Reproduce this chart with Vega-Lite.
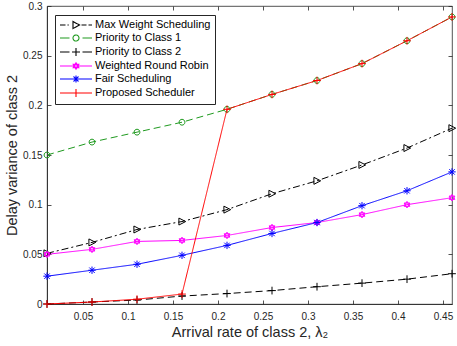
{
  "$schema": "https://vega.github.io/schema/vega-lite/v6.json",
  "width": 405,
  "height": 298,
  "autosize": "none",
  "padding": {"left": 47, "top": 6, "right": 5, "bottom": 42},
  "background": "white",
  "config": {
    "font": "Liberation Sans",
    "view": {"stroke": "#262626", "strokeWidth": 0.8},
    "axis": {
      "grid": false,
      "labelColor": "#262626",
      "labelFontSize": 10,
      "titleColor": "#262626",
      "titleFontSize": 14.5,
      "titleFontWeight": "normal",
      "domainColor": "#262626",
      "domainWidth": 0.8,
      "tickColor": "#262626",
      "tickWidth": 0.8,
      "tickSize": -4
    }
  },
  "data": {
    "values": [
      {"x": 0.01, "y": 0.051, "s": "Max Weight Scheduling"},
      {"x": 0.06, "y": 0.062, "s": "Max Weight Scheduling"},
      {"x": 0.11, "y": 0.075, "s": "Max Weight Scheduling"},
      {"x": 0.16, "y": 0.083, "s": "Max Weight Scheduling"},
      {"x": 0.21, "y": 0.095, "s": "Max Weight Scheduling"},
      {"x": 0.26, "y": 0.111, "s": "Max Weight Scheduling"},
      {"x": 0.31, "y": 0.124, "s": "Max Weight Scheduling"},
      {"x": 0.36, "y": 0.140, "s": "Max Weight Scheduling"},
      {"x": 0.41, "y": 0.157, "s": "Max Weight Scheduling"},
      {"x": 0.46, "y": 0.177, "s": "Max Weight Scheduling"},
      {"x": 0.01, "y": 0.150, "s": "Priority to Class 1"},
      {"x": 0.06, "y": 0.163, "s": "Priority to Class 1"},
      {"x": 0.11, "y": 0.173, "s": "Priority to Class 1"},
      {"x": 0.16, "y": 0.183, "s": "Priority to Class 1"},
      {"x": 0.21, "y": 0.196, "s": "Priority to Class 1"},
      {"x": 0.26, "y": 0.211, "s": "Priority to Class 1"},
      {"x": 0.31, "y": 0.225, "s": "Priority to Class 1"},
      {"x": 0.36, "y": 0.242, "s": "Priority to Class 1"},
      {"x": 0.41, "y": 0.265, "s": "Priority to Class 1"},
      {"x": 0.46, "y": 0.289, "s": "Priority to Class 1"},
      {"x": 0.01, "y": 0.000, "s": "Priority to Class 2"},
      {"x": 0.06, "y": 0.002, "s": "Priority to Class 2"},
      {"x": 0.11, "y": 0.004, "s": "Priority to Class 2"},
      {"x": 0.16, "y": 0.008, "s": "Priority to Class 2"},
      {"x": 0.21, "y": 0.0105, "s": "Priority to Class 2"},
      {"x": 0.26, "y": 0.0135, "s": "Priority to Class 2"},
      {"x": 0.31, "y": 0.0174, "s": "Priority to Class 2"},
      {"x": 0.36, "y": 0.021, "s": "Priority to Class 2"},
      {"x": 0.41, "y": 0.025, "s": "Priority to Class 2"},
      {"x": 0.46, "y": 0.0305, "s": "Priority to Class 2"},
      {"x": 0.01, "y": 0.050, "s": "Weighted Round Robin"},
      {"x": 0.06, "y": 0.055, "s": "Weighted Round Robin"},
      {"x": 0.11, "y": 0.063, "s": "Weighted Round Robin"},
      {"x": 0.16, "y": 0.064, "s": "Weighted Round Robin"},
      {"x": 0.21, "y": 0.069, "s": "Weighted Round Robin"},
      {"x": 0.26, "y": 0.077, "s": "Weighted Round Robin"},
      {"x": 0.31, "y": 0.082, "s": "Weighted Round Robin"},
      {"x": 0.36, "y": 0.090, "s": "Weighted Round Robin"},
      {"x": 0.41, "y": 0.100, "s": "Weighted Round Robin"},
      {"x": 0.46, "y": 0.107, "s": "Weighted Round Robin"},
      {"x": 0.01, "y": 0.028, "s": "Fair Scheduling"},
      {"x": 0.06, "y": 0.034, "s": "Fair Scheduling"},
      {"x": 0.11, "y": 0.040, "s": "Fair Scheduling"},
      {"x": 0.16, "y": 0.049, "s": "Fair Scheduling"},
      {"x": 0.21, "y": 0.059, "s": "Fair Scheduling"},
      {"x": 0.26, "y": 0.071, "s": "Fair Scheduling"},
      {"x": 0.31, "y": 0.082, "s": "Fair Scheduling"},
      {"x": 0.36, "y": 0.099, "s": "Fair Scheduling"},
      {"x": 0.41, "y": 0.114, "s": "Fair Scheduling"},
      {"x": 0.46, "y": 0.133, "s": "Fair Scheduling"},
      {"x": 0.01, "y": 0.000, "s": "Proposed Scheduler"},
      {"x": 0.06, "y": 0.002, "s": "Proposed Scheduler"},
      {"x": 0.11, "y": 0.0048, "s": "Proposed Scheduler"},
      {"x": 0.16, "y": 0.010, "s": "Proposed Scheduler"},
      {"x": 0.21, "y": 0.196, "s": "Proposed Scheduler"},
      {"x": 0.26, "y": 0.211, "s": "Proposed Scheduler"},
      {"x": 0.31, "y": 0.225, "s": "Proposed Scheduler"},
      {"x": 0.36, "y": 0.242, "s": "Proposed Scheduler"},
      {"x": 0.41, "y": 0.265, "s": "Proposed Scheduler"},
      {"x": 0.46, "y": 0.289, "s": "Proposed Scheduler"}
    ]
  },
  "resolve": {"axis": {"x": "independent", "y": "independent"}},
  "layer": [
    {
      "mark": {"type": "line", "strokeWidth": 1},
      "encoding": {
        "x": {
          "field": "x", "type": "quantitative",
          "scale": {"domain": [0.01, 0.46], "nice": false, "zero": false},
          "axis": {
            "orient": "bottom",
            "values": [0.05, 0.1, 0.15, 0.2, 0.25, 0.3, 0.35, 0.4, 0.45],
            "format": ".2~f",
            "labelPadding": 11,
            "title": "Arrival rate of class 2, λ₂",
            "titlePadding": 4
          }
        },
        "y": {
          "field": "y", "type": "quantitative",
          "scale": {"domain": [0, 0.3], "nice": false},
          "axis": {
            "orient": "left",
            "values": [0, 0.05, 0.1, 0.15, 0.2, 0.25, 0.3],
            "format": ".2~f",
            "labelPadding": 9,
            "title": "Delay variance of class 2",
            "titlePadding": 3
          }
        },
        "stroke": {
          "field": "s", "type": "nominal",
          "scale": {
            "domain": ["Max Weight Scheduling", "Priority to Class 1", "Priority to Class 2", "Weighted Round Robin", "Fair Scheduling", "Proposed Scheduler"],
            "range": ["#000000", "#1f9a1f", "#000000", "#ff00ff", "#0000ff", "#ff0000"]
          },
          "legend": {
            "orient": "none",
            "legendX": 8,
            "legendY": 9,
            "title": null,
            "padding": 4,
            "strokeColor": "#262626",
            "fillColor": "white",
            "labelFont": "Liberation Sans",
            "labelFontSize": 11,
            "labelColor": "#000000",
            "labelOffset": 24,
            "labelLimit": 300,
            "rowPadding": 1,
            "symbolSize": 100,
            "symbolStrokeWidth": 1.1,
            "symbolFillColor": "transparent",
            "symbolDash": [1, 0],
            "labelExpr": "datum.label == 'Fair Scheduling' ? '\u00a0Fair Scheduling' : datum.label",
            "encode": {
              "symbols": {
                "update": {
                  "shape": {"signal": "datum.value == 'Max Weight Scheduling' ? 'M-1,0H0.1M0.5,0H0.75M1.6,-0.7L2.9,0L1.6,0.7ZM3.3,0H4.3M4.7,0H5.4' : datum.value == 'Priority to Class 1' ? 'M-1,0H0.9M3.5,0H5.4M2.8,0A0.6,0.6 0 1 1 1.6,0A0.6,0.6 0 1 1 2.8,0Z' : datum.value == 'Priority to Class 2' ? 'M-1,0H0.9M3.5,0H5.4M1.4,0H3M2.2,-0.8V0.8' : datum.value == 'Weighted Round Robin' ? 'M-1,0H5.4M2.2,-0.65L2.76,0.33L1.64,0.33ZM2.2,0.65L2.76,-0.33L1.64,-0.33Z' : datum.value == 'Fair Scheduling' ? 'M-1,0H5.4M2.2,-0.7V0.7M1.7,-0.5L2.7,0.5M1.7,0.5L2.7,-0.5' : 'M-1,0H5.4M2.2,-0.8V0.8'"}
                }
              }
            }
          }
        },
        "strokeDash": {
          "field": "s", "type": "nominal",
          "scale": {
            "domain": ["Proposed Scheduler", "Max Weight Scheduling", "Priority to Class 1", "Priority to Class 2", "Weighted Round Robin", "Fair Scheduling"],
            "range": [[1, 0], [7, 3, 2, 3], [7, 4], [7, 4], [1, 0], [1, 0]]
          },
          "legend": null
        }
      }
    },
    {
      "mark": {"type": "point", "filled": false, "strokeWidth": 1, "size": 60, "opacity": 1},
      "encoding": {
        "x": {
          "field": "x", "type": "quantitative",
          "axis": {"orient": "top", "values": [0.05, 0.1, 0.15, 0.2, 0.25, 0.3, 0.35, 0.4, 0.45], "labels": false, "domain": false, "title": null}
        },
        "y": {
          "field": "y", "type": "quantitative",
          "axis": {"orient": "right", "values": [0, 0.05, 0.1, 0.15, 0.2, 0.25, 0.3], "labels": false, "domain": false, "title": null}
        },
        "stroke": {"field": "s", "type": "nominal"},
        "shape": {
          "field": "s", "type": "nominal",
          "scale": {
            "domain": ["Fair Scheduling", "Proposed Scheduler", "Max Weight Scheduling", "Priority to Class 1", "Priority to Class 2", "Weighted Round Robin"],
            "range": [
              "M-0.95,0H0.95M0,-0.95V0.95M-0.7,-0.7L0.7,0.7M-0.7,0.7L0.7,-0.7",
              "M-1,0H1M0,-1V1",
              "M-0.8,-0.9L0.95,0L-0.8,0.9Z",
              "M0.75,0A0.75,0.75 0 1 1 -0.75,0A0.75,0.75 0 1 1 0.75,0Z",
              "M-1,0H1M0,-1V1",
              "M0,-0.85L0.74,0.43L-0.74,0.43ZM0,0.85L0.74,-0.43L-0.74,-0.43Z"
            ]
          },
          "legend": null
        }
      }
    }
  ]
}
